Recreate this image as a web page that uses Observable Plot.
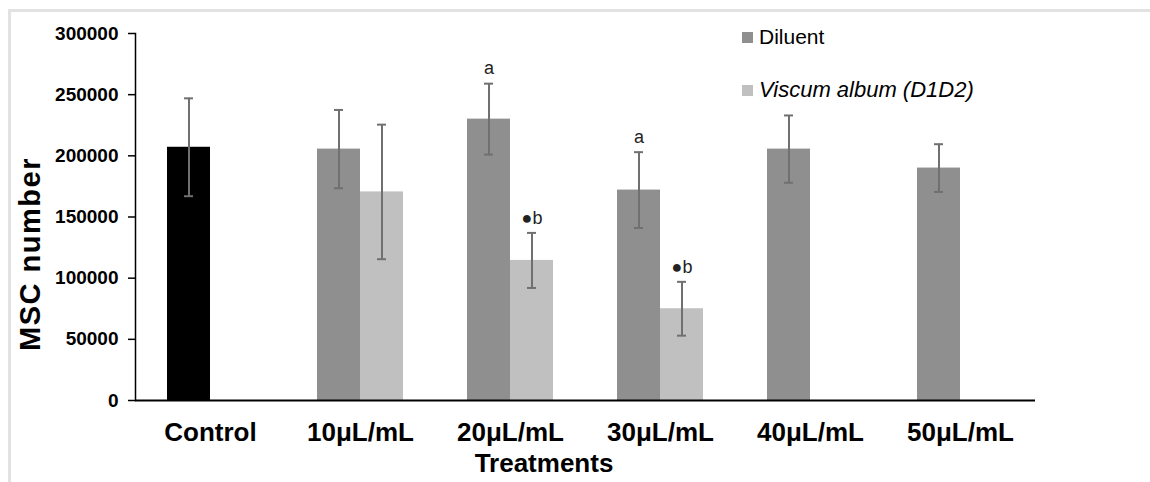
<!DOCTYPE html>
<html><head><meta charset="utf-8">
<script src="https://cdn.jsdelivr.net/npm/d3@7"></script>
<script src="https://cdn.jsdelivr.net/npm/@observablehq/plot@0.6"></script>
<style>
body{margin:0;background:#fff;}
#wrap{position:relative;width:1150px;height:482px;font-family:"Liberation Sans",Arial,sans-serif;color:#000;overflow:hidden;}
#border{position:absolute;left:8px;top:9px;right:-10px;bottom:-10px;border-top:3px solid #e2e2e2;border-left:3px solid #e2e2e2;}
#chart{position:absolute;left:0;top:0;}
.legend{position:absolute;left:742px;top:24px;}
.legend .row{display:flex;align-items:center;height:26px;margin-bottom:27px;}
.legend .sw{width:11px;height:11px;margin-right:6px;}
.legend .lab{font-size:21px;}
#xlab{position:absolute;left:444px;width:200px;text-align:center;top:448px;font-size:26px;font-weight:bold;}
#ylab{position:absolute;left:30px;top:254px;transform:translate(-50%,-50%) rotate(-90deg);font-size:29px;font-weight:bold;letter-spacing:1.5px;white-space:nowrap;}
</style></head>
<body>
<div id="wrap">
  <div id="border"></div>
  <div id="chart"></div>
  <div class="legend" id="legend"></div>
  <div id="xlab">Treatments</div>
  <div id="ylab">MSC number</div>
</div>
<script>
// ---- data ----
const treatments = ["Control", "10μL/mL", "20μL/mL", "30μL/mL", "40μL/mL", "50μL/mL"];
const diluentMeans = [207000, 205500, 230000, 172000, 205500, 190000];
const diluentErrors = [40000, 32000, 29000, 31000, 27500, 19500];
const viscumTreatments = ["10μL/mL", "20μL/mL", "30μL/mL"];
const viscumMeans = [170500, 114500, 75000];
const viscumErrors = [55000, 22500, 22000];
const annotTreatments = ["20μL/mL", "20μL/mL", "30μL/mL", "30μL/mL"];
const annotSlots = ["Diluent", "Viscum", "Diluent", "Viscum"];
const annotLabels = ["a", "●b", "a", "●b"];
const yTicks = [0, 50000, 100000, 150000, 200000, 250000, 300000];
const legendLabels = ["Diluent", "Viscum album (D1D2)"];
const colors = {Control: "#000000", Diluent: "#8f8f8f", Viscum: "#c0c0c0"};

// ---- table ----
const rows = [];
treatments.forEach((t, i) => rows.push({treatment: t, slot: "Diluent", group: i === 0 ? "Control" : "Diluent", mean: diluentMeans[i], err: diluentErrors[i]}));
viscumTreatments.forEach((t, i) => rows.push({treatment: t, slot: "Viscum", group: "Viscum", mean: viscumMeans[i], err: viscumErrors[i]}));
const annots = annotLabels.map((l, i) => {
  const r = rows.find(d => d.treatment === annotTreatments[i] && d.slot === annotSlots[i]);
  return {treatment: annotTreatments[i], slot: annotSlots[i], label: l, top: r.mean + r.err};
});

const errColor = "#707070";
const chart = Plot.plot({
  width: 1150, height: 482,
  marginLeft: 135, marginRight: 115, marginTop: 33, marginBottom: 82,
  style: {fontFamily: "'Liberation Sans', Arial, sans-serif", background: "transparent", color: "#000"},
  fx: {domain: treatments, padding: 0, label: null},
  x: {domain: ["Diluent", "Viscum"], paddingInner: 0, paddingOuter: 0.744, axis: null},
  y: {domain: [0, 300000]},
  color: {domain: Object.keys(colors), range: Object.values(colors)},
  marks: [
    Plot.barY(rows, {fx: "treatment", x: "slot", y: "mean", fill: "group", inset: 0}),
    Plot.ruleX(rows, {fx: "treatment", x: "slot", y1: d => d.mean - d.err, y2: d => d.mean + d.err, stroke: errColor, strokeWidth: 2}),
    Plot.tickY(rows, {fx: "treatment", x: "slot", y: d => d.mean - d.err, stroke: errColor, strokeWidth: 2, insetLeft: 17, insetRight: 17}),
    Plot.tickY(rows, {fx: "treatment", x: "slot", y: d => d.mean + d.err, stroke: errColor, strokeWidth: 2, insetLeft: 17, insetRight: 17}),
    Plot.text(annots, {fx: "treatment", x: "slot", y: "top", text: "label", dy: -15, fontSize: 18, fill: "#222"}),
    Plot.ruleY([0], {stroke: "#000", strokeWidth: 2}),
    Plot.frame({anchor: "left", facetAnchor: "left", stroke: "#000", strokeWidth: 1.5}),
    Plot.axisY({ticks: yTicks, tickFormat: d3.format("d"), tickSize: 7, tickPadding: 10, fontSize: 19, fontWeight: "bold", label: null, stroke: "#000", strokeOpacity: 1, strokeWidth: 1.5}),
    Plot.axisFx({anchor: "bottom", tickSize: 0, tickPadding: 22, fontSize: 26, fontWeight: "bold", label: null})
  ]
});
document.getElementById("chart").appendChild(chart);

// legend
const leg = document.getElementById("legend");
[["Diluent", legendLabels[0], false], ["Viscum", legendLabels[1], true]].forEach(([k, l, it]) => {
  const row = document.createElement("div"); row.className = "row";
  const sw = document.createElement("div"); sw.className = "sw"; sw.style.background = colors[k];
  const lab = document.createElement("div"); lab.className = "lab"; lab.textContent = l;
  if (it) { lab.style.fontStyle = "italic"; lab.style.fontSize = "22px"; }
  row.appendChild(sw); row.appendChild(lab); leg.appendChild(row);
});
</script>
</body></html>
